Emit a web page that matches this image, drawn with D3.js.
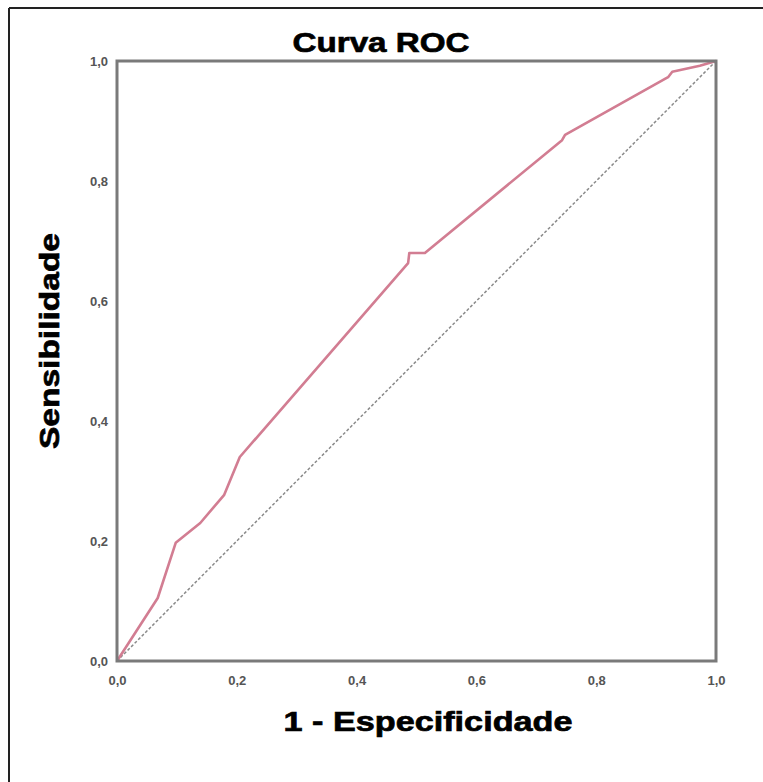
<!DOCTYPE html>
<html><head><meta charset="utf-8">
<script src="https://cdn.jsdelivr.net/npm/d3@7"></script>
<style>body{margin:0;background:#fff;}svg{display:block;}</style>
</head><body>
<script>
const fpr = [0, 0.068, 0.098, 0.139, 0.179, 0.205, 0.486, 0.488, 0.514, 0.743, 0.748, 0.920, 0.927, 0.973, 1.0];
const tpr = [0, 0.105, 0.197, 0.230, 0.277, 0.340, 0.663, 0.680, 0.680, 0.868, 0.877, 0.973, 0.982, 0.992, 1.0];
const tickValues = [0, 0.2, 0.4, 0.6, 0.8, 1.0];
const tickLabels = ["0,0", "0,2", "0,4", "0,6", "0,8", "1,0"];
const title = "Curva ROC";
const xTitle = "1 - Especificidade";
const yTitle = "Sensibilidade";

const W = 763, H = 782;
const svg = d3.select("body").append("svg").attr("width", W).attr("height", H);
svg.append("rect").attr("width", W).attr("height", H).attr("fill", "#fff");
// outer frame (top and left visible)
svg.append("line").attr("x1", 9).attr("y1", 8).attr("x2", W).attr("y2", 8).attr("stroke", "#222").attr("stroke-width", 2);
svg.append("line").attr("x1", 9).attr("y1", 8).attr("x2", 9).attr("y2", H).attr("stroke", "#222").attr("stroke-width", 2);

const L = 117, R = 716, T = 61, B = 661;
const x = d3.scaleLinear().domain([0, 1]).range([L, R]);
const y = d3.scaleLinear().domain([0, 1]).range([B, T]);

// diagonal reference
svg.append("line").attr("x1", x(0)).attr("y1", y(0)).attr("x2", x(1)).attr("y2", y(1))
  .attr("stroke", "#8a8a8a").attr("stroke-width", 1.5).attr("stroke-dasharray", "3,2");

// ROC line
const data = fpr.map((d, i) => [d, tpr[i]]);
svg.append("path").datum(data)
  .attr("d", d3.line().x(d => x(d[0])).y(d => y(d[1])))
  .attr("fill", "none").attr("stroke", "#d27d92").attr("stroke-width", 2.6).attr("stroke-linejoin", "round");

// frame box
svg.append("rect").attr("x", L).attr("y", T).attr("width", R - L).attr("height", B - T)
  .attr("fill", "none").attr("stroke", "#7a7a7a").attr("stroke-width", 3);

// axes
const fmt = v => tickLabels[tickValues.findIndex(t => Math.abs(t - v) < 1e-9)];
const xAxis = svg.append("g").attr("transform", `translate(0,${B})`)
  .call(d3.axisBottom(x).tickValues(tickValues).tickFormat(fmt).tickSize(0).tickPadding(15));
const yAxis = svg.append("g").attr("transform", `translate(${L},0)`)
  .call(d3.axisLeft(y).tickValues(tickValues).tickFormat(fmt).tickSize(0).tickPadding(9));
[xAxis, yAxis].forEach(g => {
  g.select(".domain").remove();
  g.selectAll("text").attr("font-family", "Liberation Sans, Arial, sans-serif")
    .attr("font-size", 13).attr("fill", "#555").attr("font-weight", "bold");
});
yAxis.selectAll("text").attr("dy", "0.35em");

// titles
function bigText(sel, txt, len) {
  return sel.attr("text-anchor", "middle")
    .attr("font-family", "Liberation Sans, Arial, sans-serif").attr("font-weight", "bold")
    .attr("font-size", 28).attr("fill", "#000").attr("stroke", "#000").attr("stroke-width", 0.7)
    .attr("textLength", len).attr("lengthAdjust", "spacingAndGlyphs").text(txt);
}
bigText(svg.append("text").attr("x", 381).attr("y", 52), title, 177);
bigText(svg.append("text").attr("x", 428).attr("y", 731), xTitle, 289);
bigText(svg.append("text").attr("transform", "translate(59,341) rotate(-90)"), yTitle, 216);
</script>
</body></html>
